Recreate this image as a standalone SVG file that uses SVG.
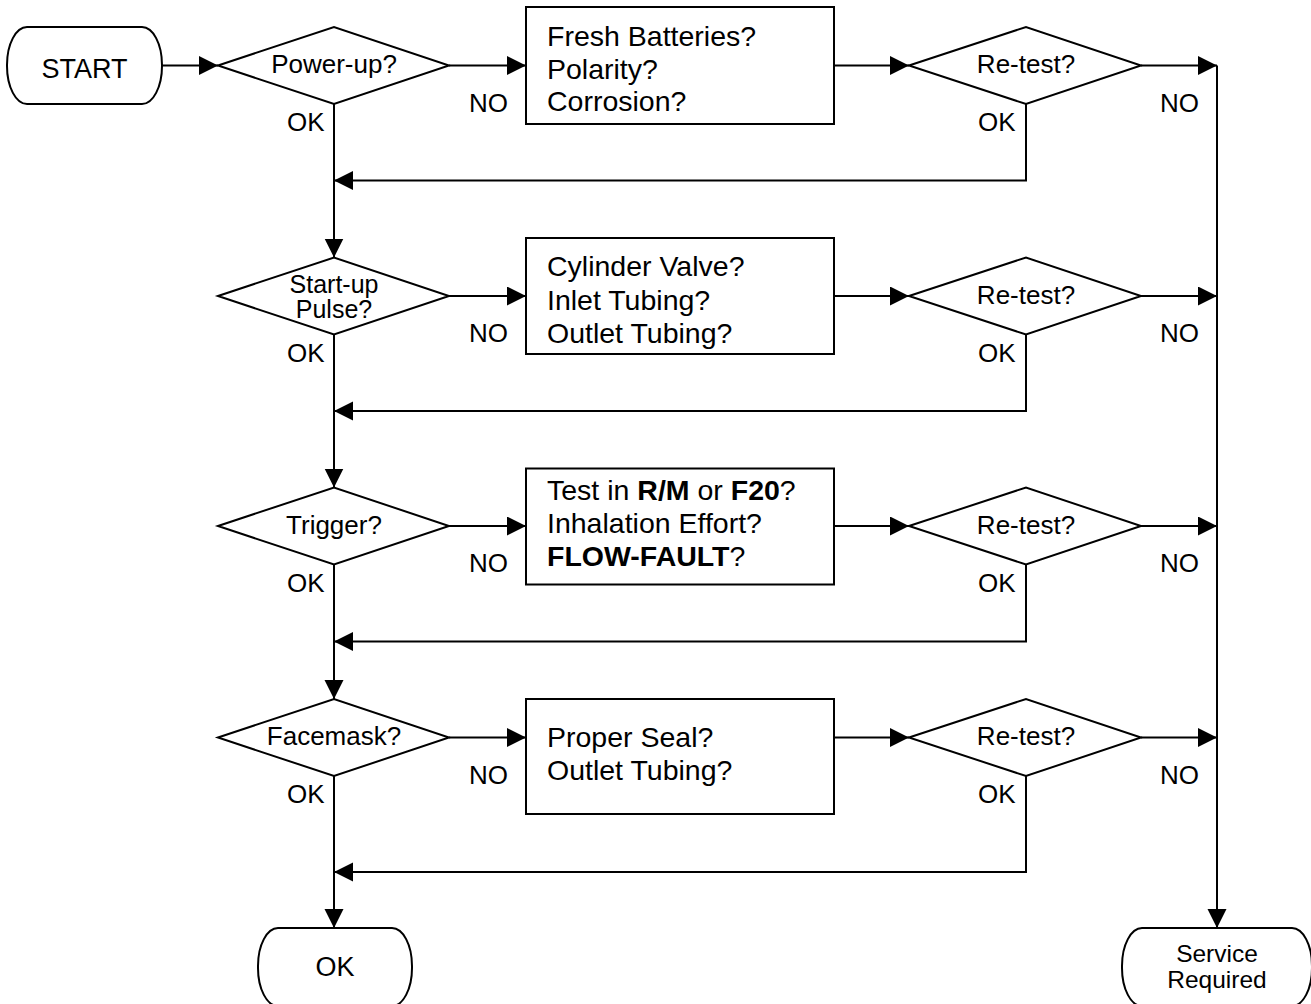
<svg xmlns="http://www.w3.org/2000/svg" width="1311" height="1004" viewBox="0 0 1311 1004">
<style>
  .shape { fill: #ffffff; stroke: #000000; stroke-width: 2; }
  .conn { fill: none; stroke: #000000; stroke-width: 2; }
  text { font-family: "Liberation Sans", Arial, sans-serif; fill: #000000; }
  .dt { font-size: 26px; text-anchor: middle; }
  .bt { font-size: 28.5px; }
  .lb { font-size: 26px; }
  .tt { font-size: 27px; text-anchor: middle; }
  .b { font-weight: bold; }
</style>
<defs>
  <marker id="arr" markerUnits="userSpaceOnUse" markerWidth="20" markerHeight="20" refX="19" refY="9.5" orient="auto" viewBox="0 0 20 20">
    <path d="M0,0 L19,9.5 L0,19 Z" fill="#000000"/>
  </marker>
</defs>
<rect width="1311" height="1004" fill="#ffffff"/>

<g id="connectors">
  <line class="conn" x1="162" y1="65.5" x2="218" y2="65.5" marker-end="url(#arr)"/>
  <line class="conn" x1="449" y1="65.5" x2="526" y2="65.5" marker-end="url(#arr)"/>
  <line class="conn" x1="834" y1="65.5" x2="909" y2="65.5" marker-end="url(#arr)"/>
  <line class="conn" x1="1141" y1="65.5" x2="1217" y2="65.5" marker-end="url(#arr)"/>
  <polyline class="conn" points="1026,104 1026,180.5 334,180.5" marker-end="url(#arr)"/>
  <line class="conn" x1="334" y1="104" x2="334" y2="257.5" marker-end="url(#arr)"/>

  <line class="conn" x1="449" y1="296" x2="526" y2="296" marker-end="url(#arr)"/>
  <line class="conn" x1="834" y1="296" x2="909" y2="296" marker-end="url(#arr)"/>
  <line class="conn" x1="1141" y1="296" x2="1217" y2="296" marker-end="url(#arr)"/>
  <polyline class="conn" points="1026,334.5 1026,411 334,411" marker-end="url(#arr)"/>
  <line class="conn" x1="334" y1="334.5" x2="334" y2="487.5" marker-end="url(#arr)"/>

  <line class="conn" x1="449" y1="526" x2="526" y2="526" marker-end="url(#arr)"/>
  <line class="conn" x1="834" y1="526" x2="909" y2="526" marker-end="url(#arr)"/>
  <line class="conn" x1="1141" y1="526" x2="1217" y2="526" marker-end="url(#arr)"/>
  <polyline class="conn" points="1026,564.5 1026,641.5 334,641.5" marker-end="url(#arr)"/>
  <line class="conn" x1="334" y1="564.5" x2="334" y2="699" marker-end="url(#arr)"/>

  <line class="conn" x1="449" y1="737.5" x2="526" y2="737.5" marker-end="url(#arr)"/>
  <line class="conn" x1="834" y1="737.5" x2="909" y2="737.5" marker-end="url(#arr)"/>
  <line class="conn" x1="1141" y1="737.5" x2="1217" y2="737.5" marker-end="url(#arr)"/>
  <polyline class="conn" points="1026,776 1026,872 334,872" marker-end="url(#arr)"/>
  <line class="conn" x1="334" y1="776" x2="334" y2="928" marker-end="url(#arr)"/>

  <line class="conn" x1="1217" y1="65.5" x2="1217" y2="928" marker-end="url(#arr)"/>

  <text class="lb" x="469" y="111.5">NO</text>
  <text class="lb" x="287" y="131">OK</text>
  <text class="lb" x="1160" y="111.5">NO</text>
  <text class="lb" x="978" y="131">OK</text>

  <text class="lb" x="469" y="342">NO</text>
  <text class="lb" x="287" y="361.5">OK</text>
  <text class="lb" x="1160" y="342">NO</text>
  <text class="lb" x="978" y="361.5">OK</text>

  <text class="lb" x="469" y="572">NO</text>
  <text class="lb" x="287" y="591.5">OK</text>
  <text class="lb" x="1160" y="572">NO</text>
  <text class="lb" x="978" y="591.5">OK</text>

  <text class="lb" x="469" y="783.5">NO</text>
  <text class="lb" x="287" y="803">OK</text>
  <text class="lb" x="1160" y="783.5">NO</text>
  <text class="lb" x="978" y="803">OK</text>
</g>

<g id="start">
  <rect class="shape" x="7" y="27" width="155" height="77" rx="20" ry="38"/>
  <text class="tt" x="84.5" y="77.5">START</text>
</g>

<g id="d-powerup">
  <polygon class="shape" points="218,65.5 334,27 449,65.5 334,104"/>
  <text class="dt" x="334" y="73">Power-up?</text>
</g>
<g id="b-batteries">
  <rect class="shape" x="526" y="7" width="308" height="117"/>
  <text class="bt" x="547" y="46">Fresh Batteries?</text>
  <text class="bt" x="547" y="78.5">Polarity?</text>
  <text class="bt" x="547" y="111">Corrosion?</text>
</g>
<g id="r-retest1">
  <polygon class="shape" points="909,65.5 1026,27 1141,65.5 1026,104"/>
  <text class="dt" x="1026" y="73">Re-test?</text>
</g>

<g id="d-startup">
  <polygon class="shape" points="218,296 334,257.5 449,296 334,334.5"/>
  <text class="dt" x="334" y="292.5" style="font-size:25px">Start-up</text>
  <text class="dt" x="334" y="318" style="font-size:25px">Pulse?</text>
</g>
<g id="b-cylinder">
  <rect class="shape" x="526" y="238" width="308" height="116"/>
  <text class="bt" x="547" y="276">Cylinder Valve?</text>
  <text class="bt" x="547" y="310">Inlet Tubing?</text>
  <text class="bt" x="547" y="343">Outlet Tubing?</text>
</g>
<g id="r-retest2">
  <polygon class="shape" points="909,296 1026,257.5 1141,296 1026,334.5"/>
  <text class="dt" x="1026" y="303.5">Re-test?</text>
</g>

<g id="d-trigger">
  <polygon class="shape" points="218,526 334,487.5 449,526 334,564.5"/>
  <text class="dt" x="334" y="533.5">Trigger?</text>
</g>
<g id="b-test">
  <rect class="shape" x="526" y="468.5" width="308" height="116"/>
  <text class="bt" x="547" y="500">Test in <tspan class="b">R/M</tspan> or <tspan class="b">F20</tspan>?</text>
  <text class="bt" x="547" y="533">Inhalation Effort?</text>
  <text class="bt" x="547" y="566"><tspan class="b">FLOW-FAULT</tspan>?</text>
</g>
<g id="r-retest3">
  <polygon class="shape" points="909,526 1026,487.5 1141,526 1026,564.5"/>
  <text class="dt" x="1026" y="533.5">Re-test?</text>
</g>

<g id="d-facemask">
  <polygon class="shape" points="218,737.5 334,699 449,737.5 334,776"/>
  <text class="dt" x="334" y="745">Facemask?</text>
</g>
<g id="b-seal">
  <rect class="shape" x="526" y="699" width="308" height="115"/>
  <text class="bt" x="547" y="747">Proper Seal?</text>
  <text class="bt" x="547" y="780">Outlet Tubing?</text>
</g>
<g id="r-retest4">
  <polygon class="shape" points="909,737.5 1026,699 1141,737.5 1026,776"/>
  <text class="dt" x="1026" y="745">Re-test?</text>
</g>

<g id="end-ok">
  <rect class="shape" x="258" y="928" width="154" height="78" rx="20" ry="38"/>
  <text class="tt" x="335" y="976">OK</text>
</g>
<g id="end-service">
  <rect class="shape" x="1122" y="928" width="190" height="78" rx="20" ry="38"/>
  <text class="tt" x="1217" y="961.5" style="font-size:24.5px">Service</text>
  <text class="tt" x="1217" y="988" style="font-size:24.5px">Required</text>
</g>
</svg>
